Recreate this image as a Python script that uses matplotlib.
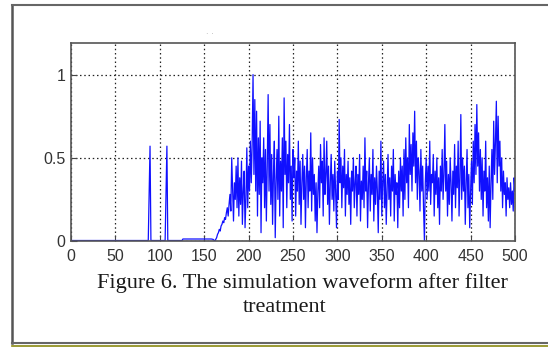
import numpy as np
import matplotlib.pyplot as plt
from matplotlib.lines import Line2D

# flat / spike part of the waveform (breakpoints)
x_quiet = [0, 87, 88, 89, 90, 91, 106, 107, 108, 109, 110, 125, 126, 158, 160]
y_quiet = [0.003, 0.003, 0.29, 0.57, 0.003, 0.003, 0.003, 0.29, 0.57, 0.003, 0.003, 0.003, 0.012, 0.012, 0.01]

# noisy part, one value per sample from 162 to 500
noise_start = 162
y_noise = [
    0.0, 0.01, 0.02, 0.04, 0.05, 0.07, 0.06, 0.09, 0.1, 0.12,
    0.11, 0.14, 0.13, 0.17, 0.2, 0.15, 0.22, 0.28, 0.18, 0.5,
    0.3, 0.12, 0.35, 0.25, 0.45, 0.2, 0.5, 0.15, 0.38, 0.22,
    0.48, 0.1, 0.3, 0.42, 0.08, 0.25, 0.56, 0.2, 0.45, 0.3,
    0.6, 0.35, 0.58, 1.0, 0.4, 0.85, 0.3, 0.78, 0.15, 0.62,
    0.28, 0.72, 0.05, 0.5, 0.35, 0.62, 0.2, 0.55, 0.12, 0.45,
    0.88, 0.3, 0.7, 0.22, 0.52, 0.1, 0.4, 0.6, 0.02, 0.35,
    0.55, 0.25, 0.75, 0.15, 0.48, 0.3, 0.62, 0.08, 0.86, 0.4,
    0.6, 0.2, 0.52, 0.35, 0.7, 0.25, 0.45, 0.12, 0.55, 0.38,
    0.5, 0.15, 0.42, 0.3, 0.6, 0.22, 0.48, 0.1, 0.35, 0.52,
    0.25, 0.45, 0.08, 0.38, 0.55, 0.2, 0.42, 0.3, 0.65, 0.18,
    0.5, 0.28, 0.4, 0.12, 0.35, 0.05, 0.3, 0.45, 0.2, 0.58,
    0.35, 0.48, 0.15, 0.62, 0.28, 0.4, 0.6, 0.22, 0.45, 0.1,
    0.35, 0.52, 0.25, 0.4, 0.18, 0.48, 0.3, 0.08, 0.42, 0.25,
    0.73, 0.35, 0.5, 0.2, 0.45, 0.32, 0.55, 0.15, 0.4, 0.28,
    0.48, 0.22, 0.38, 0.1, 0.42, 0.3, 0.5, 0.2, 0.35, 0.45,
    0.15, 0.4, 0.28, 0.52, 0.12, 0.36, 0.25, 0.45, 0.2, 0.62,
    0.3, 0.42, 0.08, 0.35, 0.5, 0.18, 0.4, 0.28, 0.55, 0.12,
    0.38, 0.22, 0.45, 0.3, 0.05, 0.42, 0.25, 0.6, 0.15, 0.35,
    0.48, 0.2, 0.4, 0.1, 0.32, 0.52, 0.25, 0.38, 0.15, 0.45,
    0.3, 0.55, 0.12, 0.4, 0.28, 0.35, 0.08, 0.42, 0.2, 0.5,
    0.3, 0.45, 0.15, 0.55, 0.25, 0.62, 0.35, 0.5, 0.2, 0.7,
    0.4, 0.58, 0.3, 0.65, 0.45, 0.78, 0.35, 0.6, 0.25, 0.5,
    0.42, 0.18, 0.55, 0.3, 0.45, 0.2, 0.0, 0.35, 0.5, 0.25,
    0.45, 0.3, 0.6, 0.22, 0.4, 0.35, 0.52, 0.15, 0.42, 0.28,
    0.5, 0.2, 0.38, 0.1, 0.45, 0.3, 0.55, 0.25, 0.4, 0.7,
    0.3, 0.48, 0.15, 0.4, 0.22, 0.5, 0.35, 0.12, 0.42, 0.28,
    0.58, 0.2, 0.45, 0.32, 0.6, 0.15, 0.38, 0.76, 0.25, 0.5,
    0.3, 0.45, 0.1, 0.35, 0.55, 0.2, 0.4, 0.08, 0.3, 0.48,
    0.22, 0.6, 0.35, 0.7, 0.4, 0.82, 0.45, 0.65, 0.3, 0.55,
    0.25, 0.5, 0.15, 0.42, 0.3, 0.6, 0.2, 0.38, 0.12, 0.45,
    0.08, 0.35, 0.55, 0.25, 0.72, 0.4, 0.6, 0.84, 0.35, 0.75,
    0.45, 0.6, 0.3, 0.5, 0.2, 0.42, 0.28, 0.35, 0.15, 0.38,
    0.25, 0.32, 0.2, 0.35, 0.22, 0.3, 0.18, 0.38, 0.3,
]

x_ticks = [0, 50, 100, 150, 200, 250, 300, 350, 400, 450, 500]
y_ticks = [0, 0.5, 1]
y_tick_labels = ['0', '0.5', '1']
caption1 = 'Figure 6. The simulation waveform after filter'
caption2 = 'treatment'

x = np.concatenate([x_quiet, np.arange(noise_start, noise_start + len(y_noise))])
y = np.concatenate([y_quiet, y_noise])

tick_font = ['Liberation Sans Narrow', 'Liberation Sans', 'DejaVu Sans']

fig = plt.figure(figsize=(5.48, 3.47), dpi=100)
ax = fig.add_axes([71 / 548, 1 - 241 / 347, 444 / 548, 198 / 347])
ax.plot(x, y, color='#1010ff', lw=0.9)

ax.set_xlim(0, 500)
ax.set_ylim(0, 1.19)
ax.set_xticks(x_ticks)
ax.set_yticks(y_ticks)
ax.set_yticklabels(y_tick_labels)
for lab in ax.get_xticklabels() + ax.get_yticklabels():
    lab.set_family(tick_font)
    lab.set_fontsize(11.5)
    lab.set_color('#333333')
ax.tick_params(direction='in', length=4, width=0.8, color='#444444', pad=4)
ax.tick_params(axis='x', pad=6)
ax.grid(True, color='#222222', ls=(0, (1.2, 2.2)), lw=0.9)
for s in ax.spines.values():
    s.set_color('#555555')
    s.set_linewidth(1.2)

fig.text(302 / 548, 1 - 283 / 347, caption1, ha='center', va='center',
         family='Liberation Serif', fontsize=16, color='#1a1a1a')
fig.text(285 / 548, 1 - 307 / 347, caption2, ha='center', va='center',
         family='Liberation Serif', fontsize=16, color='#1a1a1a')
fig.text(210 / 548, 1 - 31 / 347, '. .', ha='center', va='center',
         fontsize=6, color='#aaaaaa')

# outer frame of the screenshot
fl, ft, fb = 12 / 548, 1 - 5 / 347, 1 - 343 / 347
fig.add_artist(Line2D([fl, fl], [fb, ft], color='#555555', lw=1.8))
fig.add_artist(Line2D([fl, 1], [ft, ft], color='#666666', lw=1.5))
fig.add_artist(Line2D([fl, 1], [fb, fb], color='#666666', lw=1.5))
fig.add_artist(Line2D([fl, 1], [1 - 345.5 / 347] * 2, color='#8a8a10', lw=1.2))

fig.savefig('out.png', dpi=100)
